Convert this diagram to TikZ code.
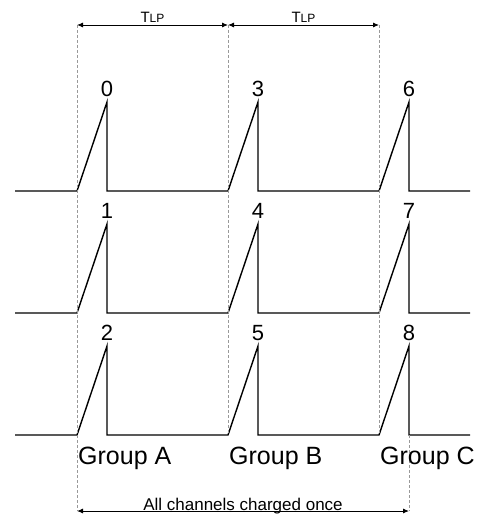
\documentclass[tikz,border=0pt]{standalone}
\usepackage{fontspec}
\setmainfont{Liberation Sans}
\usetikzlibrary{arrows.meta}

\tikzset{
    pulse/.style={line width=1.4pt},
    guide/.style={gray!80,line width=0.6pt,dash pattern=on 3pt off 2pt},
    span/.style={line width=0.9pt,{Latex[length=6pt,width=5pt]}-{Latex[length=6pt,width=5pt]}},
    chan/.style={font=\fontsize{22}{22}\selectfont,inner sep=0pt,anchor=south},
    grp/.style={font=\fontsize{25}{25}\selectfont,inner sep=0pt,anchor=base west}
}

\begin{document}
\begin{tikzpicture}[x=1pt,y=-1pt]
        \useasboundingbox (0,0) rectangle (486,518);
        % sawtooth rows, one per channel of each group
        \foreach \r/\yb in {0/191,1/313,2/435}{
            \coordinate (s\r) at (15,\yb);
            \coordinate (e\r) at (470,\yb);
            \foreach \g/\xs in {0/77,1/228,2/379}{
                \coordinate (r\r\g) at (\xs,\yb);
                \coordinate (p\r\g) at (\xs+30,\yb-89);
                \coordinate (f\r\g) at (\xs+30,\yb);
                \pgfmathtruncatemacro{\ch}{\r+3*\g}
                \node[chan] (n\r\g) at ([yshift=5pt]p\r\g) {\ch};
            }
            \draw[pulse,line join=miter] (s\r) -- (r\r0) -- (p\r0) -- (f\r0) -- (r\r1) -- (p\r1) -- (f\r1)
                -- (r\r2) -- (p\r2) -- (f\r2) -- (e\r);
        }
        % period markers
        \coordinate (ta) at (77,25);
        \coordinate (tb) at (228,25);
        \coordinate (tc) at (379,25);
        \coordinate (ba) at (77,511);
        \coordinate (bc) at (409,511);
        \draw[guide] (ta) -- (ba);
        \draw[guide] (tb) -- (r21);
        \draw[guide] (tc) -- (r22);
        \draw[guide] (f22) -- (bc);
        \draw[span] (ta) -- (tb) node[midway,above=2pt,inner sep=0pt] (tlpa) {\fontsize{15}{15}\selectfont T\fontsize{12}{12}\selectfont LP};
        \draw[span] (tb) -- (tc) node[midway,above=2pt,inner sep=0pt] (tlpb) {\fontsize{15}{15}\selectfont T\fontsize{12}{12}\selectfont LP};
        \draw[span] (ba) -- (bc);
        \node[font=\fontsize{17}{17}\selectfont,inner sep=0pt,anchor=base] (once) at (243,510) {All channels charged once};
        % group names
        \node[grp] (ga) at (78,464) {Group A};
        \node[grp] (gb) at (229,464) {Group B};
        \node[grp] (gc) at (380,464) {Group C};
    \end{tikzpicture}
\end{document}
